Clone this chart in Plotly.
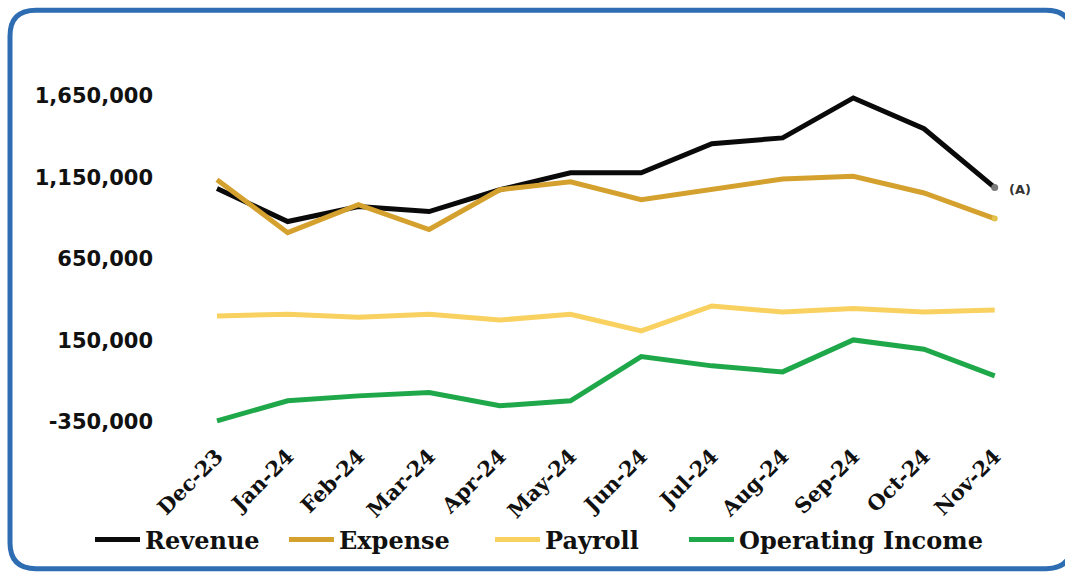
import plotly.graph_objects as go

months = ["Dec-23", "Jan-24", "Feb-24", "Mar-24", "Apr-24", "May-24",
          "Jun-24", "Jul-24", "Aug-24", "Sep-24", "Oct-24", "Nov-24"]

revenue = [1080000, 878000, 970000, 939000, 1073000, 1177000,
           1177000, 1355000, 1391000, 1636000, 1447000, 1086000]
expense = [1135000, 810000, 982000, 829000, 1073000, 1122000,
           1012000, 1073000, 1139000, 1155000, 1053000, 896000]
payroll = [299000, 309000, 291000, 309000, 274000, 309000,
           207000, 360000, 323000, 344000, 323000, 335000]
operating_income = [-344000, -221000, -191000, -170000, -252000, -221000,
                    50000, -7000, -44000, 152000, 95000, -68000]

y_ticks = [-350000, 150000, 650000, 1150000, 1650000]
y_tick_labels = ["-350,000", "150,000", "650,000", "1,150,000", "1,650,000"]

# page geometry (pixels) used to place the frame and legend
W_PX, H_PX = 1065, 573
M_L, M_R, M_T, M_B = 160, 42, 60, 133
PLOT_W = W_PX - M_L - M_R
PLOT_H = H_PX - M_T - M_B


def px_x(px):
    return (px - M_L) / PLOT_W


def px_y(py):
    return (H_PX - M_B - py) / PLOT_H


# name, values, colour, legend id, legend left edge (px)
series = [
    ("Revenue", revenue, "#0a0a0a", "legend", 90),
    ("Expense", expense, "#D4A12E", "legend2", 284),
    ("Payroll", payroll, "#F8D160", "legend3", 490),
    ("Operating Income", operating_income, "#1FA84A", "legend4", 684),
]

fig = go.Figure()
for name, vals, color, leg, _ in series:
    fig.add_trace(go.Scatter(
        x=months, y=vals, mode="lines", name=name, legend=leg,
        line=dict(color=color, width=5),
    ))

# end-point dots on the two top series
fig.add_trace(go.Scatter(
    x=[months[-1]], y=[revenue[-1]], mode="markers",
    marker=dict(color="#7a7a7a", size=7),
    showlegend=False, hoverinfo="skip", cliponaxis=False,
))
fig.add_trace(go.Scatter(
    x=[months[-1]], y=[expense[-1]], mode="markers",
    marker=dict(color="#E2C24A", size=6),
    showlegend=False, hoverinfo="skip", cliponaxis=False,
))
fig.add_annotation(
    x=months[-1], y=revenue[-1], text="<b>(A)</b>", showarrow=False,
    xanchor="left", xshift=12, yshift=-2,
    font=dict(family="DejaVu Sans", size=13, color="#333"),
)

# rounded blue frame
x0, x1 = px_x(10), px_x(1072)
y0, y1 = px_y(10), px_y(570)
r = 26
rx = r / PLOT_W
ry = r / PLOT_H
path = (
    f"M {x0 + rx},{y0} L {x1 - rx},{y0} Q {x1},{y0} {x1},{y0 - ry} "
    f"L {x1},{y1 + ry} Q {x1},{y1} {x1 - rx},{y1} "
    f"L {x0 + rx},{y1} Q {x0},{y1} {x0},{y1 + ry} "
    f"L {x0},{y0 - ry} Q {x0},{y0} {x0 + rx},{y0} Z"
)
fig.add_shape(type="path", path=path, xref="paper", yref="paper",
              line=dict(color="#2F6DB3", width=5), layer="above")

legend_font = dict(family="DejaVu Serif", size=24, color="#111", weight="bold")
legends = {}
for _, _, _, leg, left in series:
    legends[leg] = dict(
        orientation="h", x=px_x(left), xanchor="left",
        y=px_y(540), yanchor="middle",
        font=legend_font, itemwidth=45, bgcolor="rgba(0,0,0,0)",
    )

fig.update_layout(
    width=W_PX, height=H_PX,
    margin=dict(l=M_L, r=M_R, t=M_T, b=M_B),
    plot_bgcolor="white", paper_bgcolor="white",
    showlegend=True,
    **legends,
)
fig.update_xaxes(
    type="category", range=[-0.806, 11.4],
    showgrid=False, zeroline=False, showline=False,
    tickangle=-45, ticks="",
    tickfont=dict(family="DejaVu Serif", size=21, color="#111", weight="bold"),
)
fig.update_yaxes(
    range=[-455500, 1868600],
    tickmode="array", tickvals=y_ticks, ticktext=y_tick_labels,
    showgrid=False, zeroline=False, showline=False, ticks="",
    ticklabelstandoff=6,
    tickfont=dict(family="DejaVu Sans", size=21, color="#111", weight="bold"),
)

fig.write_html("out.html")
